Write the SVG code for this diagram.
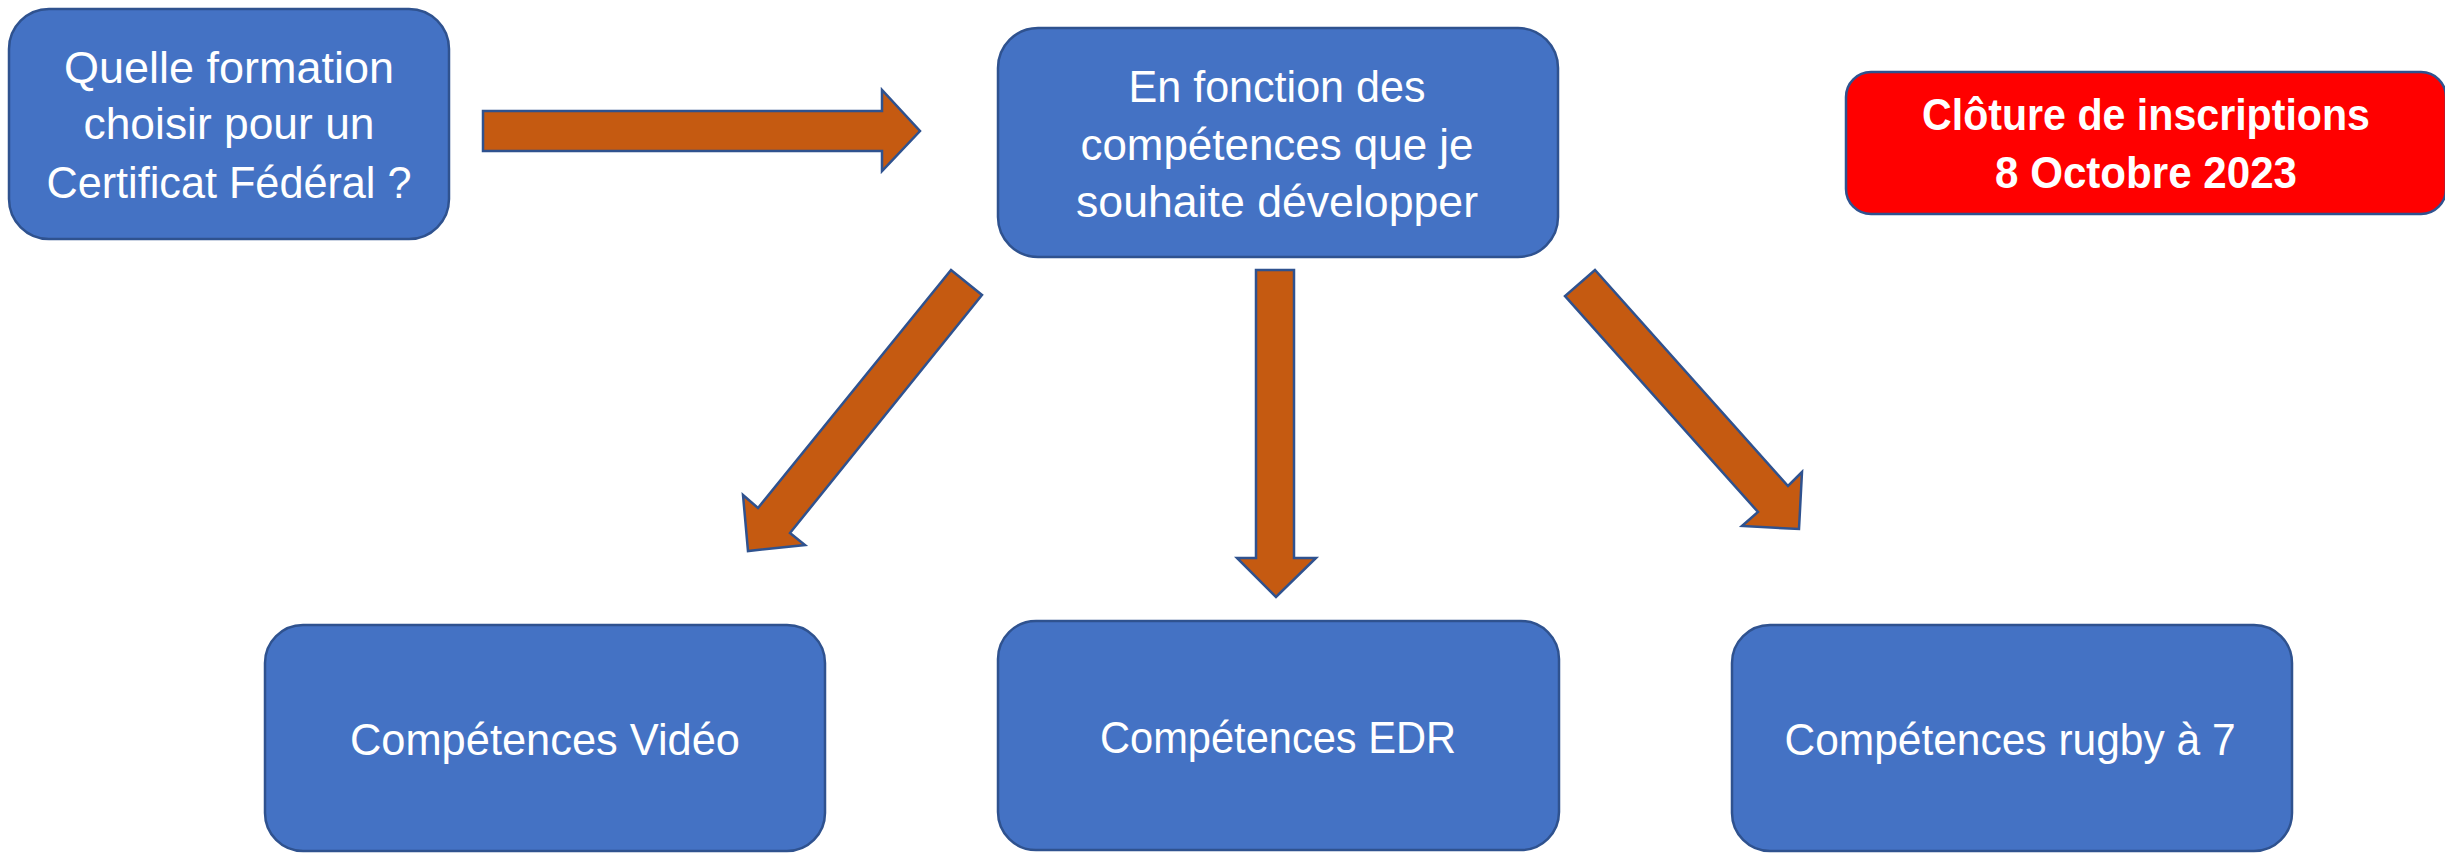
<svg xmlns="http://www.w3.org/2000/svg" width="2445" height="853" viewBox="0 0 2445 853">
<style>
.box{fill:#4472C4;stroke:#2F528F;stroke-width:2.5}
.red{fill:#FF0000;stroke:#2F528F;stroke-width:2.5}
.arr{fill:#C55A11;stroke:#2F528F;stroke-width:2.5;stroke-linejoin:miter}
.t{font-family:"Liberation Sans",Arial,sans-serif;font-size:44px;fill:#FFFFFF;text-anchor:middle}
.b{font-weight:bold;font-size:44px}
</style>
<rect width="2445" height="853" fill="#FFFFFF"/>
<g id="node-question">
<rect class="box" x="9" y="9" width="440" height="230" rx="40" ry="40"/>
<text class="t" x="229" y="83" textLength="330" lengthAdjust="spacingAndGlyphs">Quelle formation</text>
<text class="t" x="229" y="139" textLength="291" lengthAdjust="spacingAndGlyphs">choisir pour un</text>
<text class="t" x="229" y="198" textLength="365" lengthAdjust="spacingAndGlyphs">Certificat Fédéral ?</text>
</g>
<g id="node-fonction">
<rect class="box" x="998" y="28" width="560" height="229" rx="40" ry="40"/>
<text class="t" x="1277" y="102" textLength="297" lengthAdjust="spacingAndGlyphs">En fonction des</text>
<text class="t" x="1277" y="160" textLength="393" lengthAdjust="spacingAndGlyphs">compétences que je</text>
<text class="t" x="1277" y="217" textLength="402" lengthAdjust="spacingAndGlyphs">souhaite développer</text>
</g>
<g id="node-cloture">
<rect class="red" x="1846" y="72" width="600" height="142" rx="25" ry="25"/>
<text class="t b" x="2146" y="130" textLength="448" lengthAdjust="spacingAndGlyphs">Clôture de inscriptions</text>
<text class="t b" x="2146" y="188" textLength="302" lengthAdjust="spacingAndGlyphs">8 Octobre 2023</text>
</g>
<g id="node-video">
<rect class="box" x="265" y="625" width="560" height="226" rx="38" ry="38"/>
<text class="t" x="545" y="755" textLength="390" lengthAdjust="spacingAndGlyphs">Compétences Vidéo</text>
</g>
<g id="node-edr">
<rect class="box" x="998" y="621" width="561" height="229" rx="38" ry="38"/>
<text class="t" x="1278" y="753" textLength="356" lengthAdjust="spacingAndGlyphs">Compétences EDR</text>
</g>
<g id="node-rugby">
<rect class="box" x="1732" y="625" width="560" height="226" rx="38" ry="38"/>
<text class="t" x="2010" y="755" textLength="451" lengthAdjust="spacingAndGlyphs">Compétences rugby à 7</text>
</g>
<g id="connectors">
<polygon class="arr" points="483,111 882,111 882,90 920,131 882,171 882,151 483,151"/>
<polygon class="arr" points="1256,270 1294,270 1294,558 1316,558 1276,597 1237,558 1256,558"/>
<polygon class="arr" points="951,270 982,295 790,533 805,545 748,551 743,495 758,508"/>
<polygon class="arr" points="1595,270 1565,296 1758,512 1742,526 1799,529 1802,472 1788,486"/>
</g>
</svg>
